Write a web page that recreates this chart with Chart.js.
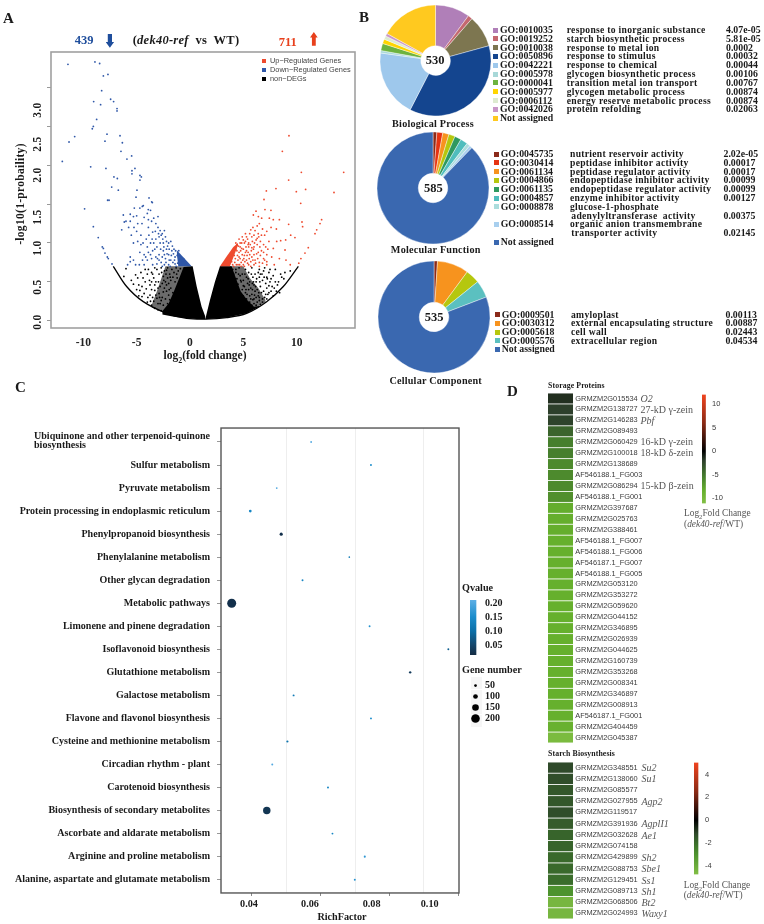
<!DOCTYPE html>
<html>
<head>
<meta charset="utf-8">
<title>dek40-ref transcriptome</title>
<script src="https://cdn.jsdelivr.net/npm/chart.js@4/dist/chart.umd.min.js"></script>
<style>
  html, body { margin: 0; background: #fff; }
  #page { position: relative; width: 764px; height: 924px; overflow: hidden; background: #fff; }
  #page canvas { position: absolute; }
  .t { position: absolute; white-space: pre; line-height: 1; z-index: 5; }
  .t sub { font-size: 70%; line-height: 0; }
</style>
</head>
<body>
<div id="page"></div>
<script>
// ---- A: volcano, values as [log2FC, -log10(1-p)]
const upPoints = [[9.28,2.38],[8.66,2.18],[10.44,1.91],[14.41,1.91],[9.25,1.81],[7.16,1.67],[8.06,1.7],[10.84,1.69],[9.97,1.66],[13.5,1.65],[6.94,1.56],[10.38,1.51],[7.03,1.43],[7.59,1.42],[6.19,1.41],[5.94,1.36],[6.41,1.34],[6.72,1.32],[7.44,1.32],[7.81,1.3],[8.38,1.3],[12.34,1.3],[10.5,1.27],[12.19,1.25],[10.56,1.21],[9.25,1.24],[11.88,1.17],[11.72,1.12],[9.44,1.1],[9.84,1.07],[8.97,1.04],[8.13,1.02],[8.5,1.03],[11.09,.94],[10.78,.87],[8.91,.91],[7.81,.93],[8.38,.8],[7.66,.82],[7.2,.76],[6.9,.8],[10.4,.8],[10.2,.74],[4.3,1.0],[4.6,1.05],[4.9,1.08],[5.2,1.12],[5.1,1.0],[5.4,1.05],[5.7,1.17],[5.9,1.2],[6.0,1.1],[6.3,1.22],[6.5,1.25],[6.4,1.12],[6.8,1.18],[7.0,1.1],[7.2,1.15],[5.5,.95],[5.0,.92],[4.7,.95],[4.4,.9],[4.9,.85],[5.2,.88],[5.6,.85],[6.0,.95],[6.3,.98],[6.6,1.02],[6.9,.98],[6.0,.85],[6.4,.88],[6.7,.9],[5.3,.78],[5.7,.76],[6.1,.78],[6.5,.75],[4.8,.75],[4.5,.78],[4.2,.75],[5.0,.72],[5.5,.72],[6.0,.72],[7.0,.78],[7.2,.85],[7.3,.92],[4.6,.82],[4.75,.9],[5.05,.8],[5.35,.84],[5.45,.98],[4.85,1.0],[5.25,.95],[5.75,.9],[5.85,1.02],[6.2,1.04],[4.15,.84],[4.35,.72],[4.65,.72],[5.15,.76],[5.8,.82],[6.55,.95],[3.9,.76],[4.0,.85],[4.1,.7],[4.25,.8],[4.3,.92],[4.45,.84],[4.5,.72],[4.55,.96],[4.7,.8],[4.8,.7],[4.85,.93],[4.95,.78],[5.1,.84],[5.1,.7],[5.2,1.02],[5.3,.9],[5.4,.74],[5.45,.88],[5.55,.8],[5.65,.98],[5.7,.7],[5.8,1.08],[5.9,.78],[5.95,.92],[6.05,1.0],[6.15,.74],[6.25,.86],[6.35,.8],[6.45,1.08],[6.5,.7],[6.6,.84],[6.7,1.1],[6.8,.74],[6.9,.88],[7.1,.95],[7.2,.72],[7.4,1.02],[7.6,1.2],[7.9,.72],[8.1,1.18],[9.0,.78],[9.4,.72],[4.0,.72],[4.4,.98],[4.6,.88],[4.7,1.0],[5.0,1.04],[5.3,1.08],[5.6,1.12],[5.5,1.0],[5.8,.94],[6.1,1.16],[6.3,1.06]];
const downPoints = [[-11.44,3.3],[-8.91,3.33],[-8.47,3.31],[-7.69,3.17],[-8.12,3.15],[-8.28,2.96],[-7.44,2.85],[-7.16,2.82],[-9.03,2.82],[-8.38,2.78],[-6.84,2.73],[-6.84,2.7],[-8.75,2.59],[-9.06,2.5],[-9.16,2.47],[-7.78,2.4],[-6.56,2.38],[-10.81,2.37],[-11.34,2.3],[-7.97,2.31],[-6.34,2.29],[-6.47,2.18],[-5.47,2.12],[-5.91,2.08],[-11.97,2.05],[-9.31,1.98],[-7.88,1.96],[-5.16,1.96],[-5.44,1.93],[-5.44,1.89],[-4.69,1.87],[-4.56,1.85],[-7.13,1.85],[-6.81,1.83],[-4.69,1.81],[-7.34,1.72],[-6.72,1.68],[-4.97,1.68],[-7.72,1.55],[-7.59,1.55],[-5.06,1.59],[-3.84,1.58],[-3.59,1.53],[-3.53,1.52],[-9.88,1.44],[-4.38,1.48],[-4.47,1.47],[-5.22,1.45],[-3.91,1.43],[-9.06,1.21],[-8.6,1.07],[-8.22,.95],[-8.12,.93],[-7.97,.87],[-7.75,.82],[-7.66,.8],[-7.31,.73],[-6.25,1.36],[-6.16,1.27],[-6.4,1.17],[-5.6,1.37],[-5.3,1.34],[-5.6,1.28],[-6.0,1.28],[-5.75,1.2],[-5.0,1.35],[-4.7,1.45],[-4.9,1.25],[-4.5,1.25],[-5.25,1.2],[-5.5,1.1],[-5.0,1.15],[-4.6,1.1],[-4.3,1.33],[-4.0,1.38],[-3.9,1.3],[-3.7,1.42],[-3.6,1.28],[-3.4,1.32],[-3.2,1.25],[-3.0,1.34],[-3.9,1.2],[-3.5,1.14],[-3.0,1.2],[-2.8,1.16],[-2.6,1.12],[-2.4,1.16],[-2.3,1.08],[-2.9,1.08],[-3.2,1.05],[-3.4,1.0],[-3.7,1.0],[-4.1,1.05],[-4.6,.98],[-4.9,1.02],[-5.3,1.0],[-5.6,.82],[-5.3,.78],[-5.6,.76],[-5.85,.72],[-4.7,.88],[-4.3,.85],[-3.9,.88],[-3.5,.9],[-3.1,.95],[-2.8,1.0],[-2.5,1.0],[-2.2,1.02],[-2.0,1.0],[-1.8,1.02],[-2.2,.92],[-2.5,.9],[-2.9,.85],[-3.2,.82],[-3.6,.8],[-4.0,.78],[-2.0,.85],[-1.7,.9],[-1.5,.92],[-2.3,.8],[-2.7,.75],[-3.1,.73],[-1.8,.78],[-1.4,.82],[-1.1,.85],[-1.0,.78],[-.7,.75],[-1.4,.73],[-2.0,.72],[-2.4,.72],[-3.5,.72],[-4.3,.72],[-5.1,.72],[-2.9,.78],[-2.75,.92],[-2.6,.82],[-2.6,.7],[-2.45,.95],[-2.4,.85],[-2.25,.75],[-2.15,.86],[-2.1,.96],[-1.95,.78],[-1.95,.92],[-1.85,.7],[-1.75,.84],[-1.65,.96],[-1.6,.75],[-1.55,.86],[-1.45,.78],[-1.35,.9],[-1.3,.7],[-1.2,.84],[-1.15,.74],[-1.05,.9],[-.9,.72],[-.85,.82],[-.6,.8],[-.45,.72],[-2.95,1.12],[-3.25,1.15],[-3.3,.92],[-3.55,1.05],[-3.7,.85],[-3.85,1.1],[-4.0,.95],[-4.15,.82],[-4.4,1.0],[-4.45,.78],[-4.75,.72],[-3.05,.8],[-2.55,1.05],[-2.7,1.1]];
const otherPoints = [[-6.0,.67],[-6.2,.57],[-5.1,.59],[-4.8,.46],[-4.2,.5],[-4.7,.39],[-4.3,.35],[-3.75,.46],[-3.3,.39],[-3.75,.33],[-3.1,.29],[-2.8,.22],[-2.5,.57],[-2.8,.44],[-2.5,.37],[-2.2,.65],[-2.0,.48],[-3.6,.62],[-3.1,.66],[-2.9,.6],[-2.7,.68],[-2.4,.64],[-2.1,.68],[-1.9,.6],[-1.7,.66],[-1.5,.62],[-1.3,.68],[-1.1,.64],[-.9,.67],[-2.3,.5],[-2.1,.55],[-1.8,.52],[-1.6,.56],[-1.4,.5],[-1.2,.55],[-2.6,.3],[-2.4,.42],[-2.2,.38],[-2.0,.33],[-1.8,.42],[-1.6,.36],[-3.4,.25],[-3.2,.33],[-3.0,.22],[-2.9,.35],[-2.7,.26],[-2.5,.2],[-2.3,.28],[-2.1,.22],[-1.9,.27],[-3.6,.4],[-3.95,.3],[-4.1,.41],[-3.4,.55],[-3.2,.5],[-2.95,.5],[-2.6,.48],[-4.5,.31],[-4.0,.24],[-3.6,.2],[-3.3,.16],[-3.0,.14],[-2.7,.13],[-4.4,.55],[-4.0,.6],[-5.3,.47],[-5.5,.52],[-3.8,.52],[-3.5,.3],[-2.85,.3],[-2.2,.46],[-1.95,.4],[-2.45,.52],[-2.25,.6],[-1.85,.56],[-2.65,.62],[-3.3,.68],[-1.25,.6],[-3.5,.6],[-3.9,.66],[-4.6,.62],[-4.9,.55],[-4.2,.66],[-3.7,.25],[-4.8,.32],[-5.0,.4],[-4.5,.44],[-3.3,.46],[-3.0,.42],[-3.6,.5],[4.0,.66],[4.3,.62],[4.6,.68],[4.9,.6],[5.2,.66],[5.5,.62],[5.8,.68],[6.1,.6],[6.5,.66],[7.0,.68],[7.4,.62],[7.8,.58],[8.0,.66],[8.5,.6],[8.9,.62],[8.6,.56],[4.1,.6],[4.4,.54],[4.7,.58],[5.0,.52],[5.3,.56],[5.6,.5],[5.9,.56],[6.2,.5],[6.5,.56],[6.8,.52],[7.1,.48],[7.5,.5],[4.5,.47],[4.8,.5],[5.1,.44],[5.4,.48],[5.7,.42],[6.0,.46],[6.3,.4],[6.6,.44],[6.9,.38],[7.2,.42],[7.6,.38],[7.9,.42],[4.9,.4],[5.2,.36],[5.5,.4],[5.8,.34],[6.1,.38],[6.4,.32],[6.7,.36],[7.0,.3],[7.3,.34],[7.8,.32],[5.0,.32],[5.3,.28],[5.6,.32],[5.9,.27],[6.2,.3],[6.5,.26],[6.8,.28],[7.2,.28],[5.6,.24],[6.0,.22],[6.3,.24],[6.6,.21],[4.3,.66],[4.55,.6],[4.75,.52],[5.0,.45],[5.15,.6],[5.45,.54],[5.75,.6],[5.95,.5],[6.25,.54],[6.4,.62],[6.75,.6],[6.95,.56],[7.25,.54],[5.25,.4],[5.55,.46],[5.85,.4],[6.15,.44],[6.45,.36],[5.35,.34],[5.7,.28],[6.05,.33],[5.85,.48],[6.55,.5],[7.4,.45],[8.2,.46],[8.4,.36],[4.4,.42],[5.4,.2],[5.6,.18],[5.8,.2],[6.0,.28],[6.2,.2],[6.5,.3],[6.8,.24],[7.1,.34],[7.4,.36],[7.7,.44],[7.2,.56],[6.6,.6],[6.9,.64],[7.6,.54],[8.0,.5],[8.3,.5],[8.1,.38],[8.8,.54],[9.4,.64],[7.5,.66]];
// lower envelope and the parts too dense to read point by point
const envelope = [[-7.19,.7],[-5.94,.44],[-4.38,.245],[-2.19,.095],[-.31,.03],[1.47,.02],[3.44,.04],[5.31,.095],[7.19,.245],[8.75,.44],[10.16,.7]];
const denseLeftTop = [[-2.6,.12],[-2.0,.22],[-1.5,.38],[-1.0,.55],[-.6,.69],[.25,.7],[.63,.44],[1.09,.18],[1.47,.04]];
const denseLeftBottom = [[-2.6,.08],[-1.5,.05],[-.3,.03],[.6,.022],[1.47,.02]];
const denseRightTop = [[1.47,.04],[1.88,.27],[2.34,.5],[2.81,.7],[3.9,.7],[4.3,.55],[4.75,.38],[5.4,.26],[6.0,.18],[6.5,.19]];
const denseRightBottom = [[1.47,.02],[3.44,.04],[5.31,.095],[6.5,.18]];
const sparseLeftTop = [[-3.6,.2],[-3.1,.38],[-2.6,.58],[-2.3,.7],[.2,.7]];
const sparseLeftBottom = [[-3.6,.17],[-2.19,.095],[-.31,.03],[.2,.03]];
const sparseRightTop = [[2.81,.7],[5.0,.7],[5.6,.55],[6.4,.42],[7.1,.26]];
const sparseRightBottom = [[2.81,.03],[3.44,.04],[5.31,.095],[7.1,.24]];
const denseUpTop = [[2.81,.7],[3.4,.82],[4.06,.95],[4.5,1.0]];
const denseUpBottom = [[2.81,.7],[3.75,.7],[4.5,.97]];
const denseDownTop = [[-1.25,.91],[.16,.7]];
const denseDownBottom = [[-1.25,.88],[-1.1,.7],[.16,.7]];
const volcanoXTicks = [-10, -5, 0, 5, 10];
const volcanoYTicks = [0, .5, 1, 1.5, 2, 2.5, 3];
const volcanoYLabels = ["0.0", "0.5", "1.0", "1.5", "2.0", "2.5", "3.0"];

// ---- B: GO pies
const bpIds = ["GO:0010035","GO:0019252","GO:0010038","GO:0050896","GO:0042221","GO:0005978","GO:0000041","GO:0005977","GO:0006112","GO:0042026","Not assigned"];
const bpNames = ["response to inorganic substance","starch biosynthetic process","response to metal ion","response to stimulus","response to chemical","glycogen biosynthetic process","transition metal ion transport","glycogen metabolic process","energy reserve metabolic process","protein refolding",""];
const bpPvalues = ["4.07e-05","5.81e-05","0.0002","0.00032","0.00044","0.00106","0.00767","0.00874","0.00874","0.02063",""];
const bpShares = [10.1,1.3,9.3,36.8,19.6,.7,2.1,1.3,1,.8,16.9];
const bpColors = ["#B07FB8","#C4686F","#7D7650","#14458F","#9EC8EC","#A8D8D8","#6DB33F","#FFD500","#DDEBD0","#C896C8","#FFC91F"];
const mfIds = ["GO:0045735","GO:0030414","GO:0061134","GO:0004866","GO:0061135","GO:0004857","GO:0008878","GO:0008514","Not assigned"];
const mfNames = ["nutrient reservoir activity","peptidase inhibitor activity","peptidase regulator activity","endopeptidase inhibitor activity","endopeptidase regulator activity","enzyme inhibitor activity","glucose-1-phosphate\nadenylyltransferase  activity","organic anion transmembrane\ntransporter activity",""];
const mfPvalues = ["2.02e-05","0.00017","0.00017","0.00099","0.00099","0.00127","0.00375","0.02145",""];
const mfShares = [1.1,1.7,1.8,1.8,1.9,2.1,1,.8,87.7];
const mfColors = ["#8B2A1A","#E63312","#F7931E","#B5C70E","#2E9960","#4FBDBD","#ABDDDD","#A8CFEE","#3A68B0"];
const ccIds = ["GO:0009501","GO:0030312","GO:0005618","GO:0005576","Not assigned"];
const ccNames = ["amyloplast","external encapsulating structure","cell wall","extracellular region",""];
const ccPvalues = ["0.00113","0.00887","0.02443","0.04534",""];
const ccShares = [1,9.1,4.1,5,80.8];
const ccColors = ["#8B2A1A","#F7931E","#B5C70E","#5BC0C0","#3A68B0"];

// ---- C: KEGG enrichment, top row first
const pathways = ["Ubiquinone and other terpenoid-quinone biosynthesis","Sulfur metabolism","Pyruvate metabolism","Protein processing in endoplasmic reticulum","Phenylpropanoid biosynthesis","Phenylalanine metabolism","Other glycan degradation","Metabolic pathways","Limonene and pinene degradation","Isoflavonoid biosynthesis","Glutathione metabolism","Galactose metabolism","Flavone and flavonol biosynthesis","Cysteine and methionine metabolism","Circadian rhythm - plant","Carotenoid biosynthesis","Biosynthesis of secondary metabolites","Ascorbate and aldarate metabolism","Arginine and proline metabolism","Alanine, aspartate and glutamate metabolism"];
const richFactor = [.0572,.0746,.0472,.0395,.0485,.0683,.0547,.0341,.0742,.0971,.086,.0521,.0746,.0503,.0459,.0621,.0443,.0634,.0728,.0699];
const qValues = [.2,.15,.2,.14,.01,.12,.14,.01,.16,.08,.03,.12,.15,.11,.2,.14,.02,.14,.17,.16];
const geneNumbers = [25,30,25,50,60,22,30,210,28,28,40,30,28,35,30,30,170,28,32,30];
const richTicks = [.04,.05,.06,.07,.08,.09,.1];
const richLabels = ["0.04","0.06","0.08","0.10"];
const qTicks = [.05,.1,.15,.2];
const geneLegend = [50,100,150,200];

// ---- D: heatmaps
const storageGenes = ["GRMZM2G015534","GRMZM2G138727","GRMZM2G146283","GRMZM2G089493","GRMZM2G060429","GRMZM2G100018","GRMZM2G138689","AF546188.1_FG003","GRMZM2G086294","AF546188.1_FG001","GRMZM2G397687","GRMZM2G025763","GRMZM2G388461","AF546188.1_FG007","AF546188.1_FG006","AF546187.1_FG007","AF546188.1_FG005","GRMZM2G053120","GRMZM2G353272","GRMZM2G059620","GRMZM2G044152","GRMZM2G346895","GRMZM2G026939","GRMZM2G044625","GRMZM2G160739","GRMZM2G353268","GRMZM2G008341","GRMZM2G346897","GRMZM2G008913","AF546187.1_FG001","GRMZM2G404459","GRMZM2G045387"];
const storageFc = [-1.5,-2,-2.2,-4,-5.5,-5.5,-6.2,-6.2,-6.2,-6.5,-8.3,-8.4,-8.4,-8.5,-8.5,-8.5,-8.5,-8.5,-8.5,-8.5,-8.5,-8.5,-8.5,-8.5,-8.5,-8.5,-8.5,-8.5,-8.5,-8.5,-8.7,-10.5];
const storageNotes = ["O2","27-kD γ-zein","Pbf","","16-kD γ-zein","18-kD δ-zein","","","15-kD β-zein"];
const starchGenes = ["GRMZM2G348551","GRMZM2G138060","GRMZM2G085577","GRMZM2G027955","GRMZM2G119517","GRMZM2G391936","GRMZM2G032628","GRMZM2G074158","GRMZM2G429899","GRMZM2G088753","GRMZM2G129451","GRMZM2G089713","GRMZM2G068506","GRMZM2G024993"];
const starchFc = [-1.2,-1.3,-1.5,-1.5,-1.3,-1.6,-1.8,-1.8,-1.9,-1.9,-2,-3,-4.4,-4.4];
const starchNotes = ["Su2","Su1","","Agp2","","AgplI1","Ae1","","Sh2","Sbe1","Ss1","Sh1","Bt2","Waxy1"];
const storageScaleTicks = [-10,-5,0,5,10];
const starchScaleTicks = [-4,-2,0,2,4];

// ---- colour ramps
const storageRamp = [[-11.2,"#82BF45"],[-8.5,"#66B02D"],[-5.5,"#467F2D"],[-2,"#2D3F2B"],[0,"#000000"],[6,"#8A2A15"],[12.1,"#F0441F"]];
const starchRamp = [[-4.76,"#82BF45"],[-3,"#4D932E"],[-2,"#3A6D2B"],[-1.2,"#2F4A2A"],[0,"#000000"],[2.5,"#8A2A15"],[5.06,"#F0441F"]];
const qRamp = [[0,"#132B43"],[.05,"#14466B"],[.1,"#0B6FA8"],[.15,"#1A8CCB"],[.21,"#5CAEE4"]];

function hexRgb(h) { return [1, 3, 5].map((i) => parseInt(h.slice(i, i + 2), 16)); }
function rampColor(ramp, v) {
  for (let i = 1; i < ramp.length; i++) {
    if (v <= ramp[i][0]) {
      const k = Math.max(0, (v - ramp[i - 1][0]) / (ramp[i][0] - ramp[i - 1][0]));
      const a = hexRgb(ramp[i - 1][1]);
      const b = hexRgb(ramp[i][1]);
      return `rgb(${a.map((c, j) => Math.round(c + (b[j] - c) * k)).join(",")})`;
    }
  }
  return ramp[ramp.length - 1][1];
}
const geneRadius = (n) => 0.4 + n * 0.0195;

const SERIF = '"Liberation Serif", serif';
const SANS = '"Liberation Sans", sans-serif';
const page = document.getElementById("page");
Chart.defaults.font.family = SERIF;
Chart.defaults.animation = false;
Chart.defaults.events = [];
Chart.defaults.plugins.legend.display = false;
Chart.defaults.plugins.tooltip.enabled = false;

function text(str, x, y, o = {}) {
  const d = document.createElement("div");
  d.className = "t";
  d.innerHTML = str;
  const shift = o.align === "center" ? "-50%" : o.align === "right" ? "-100%" : "0";
  d.style.cssText = `left:${x}px;top:${y}px;font-family:${o.family || SERIF};font-size:${o.size || 10}px;` +
    `font-weight:${o.weight || "bold"};font-style:${o.fontStyle || "normal"};color:${o.color || "#1a1a1a"};letter-spacing:${o.spacing || 0}px;` +
    `transform:translate(${shift},-50%)${o.rotate ? ` rotate(${o.rotate}deg)` : ""};`;
  page.appendChild(d);
}
function box(x, y, w, h, color, clip) {
  const d = document.createElement("div");
  d.style.cssText = `position:absolute;left:${x}px;top:${y}px;width:${w}px;height:${h}px;background:${color};` +
    (clip ? `clip-path:polygon(${clip});` : "");
  page.appendChild(d);
}
// canvas around a plot frame, axes pinned so the frame lands on exact page pixels
const PAD = 7;
function plotCanvas(f, axis = {}) {
  const c = document.createElement("canvas");
  const left = axis.left || 0, right = axis.right || 0, bottom = axis.bottom || 0;
  c.width = f.r - f.l + left + right + PAD * 2;
  c.height = f.b - f.t + bottom + PAD * 2;
  c.style.left = f.l - left - PAD + "px";
  c.style.top = f.t - PAD + "px";
  page.appendChild(c);
  return c;
}
const pin = (size) => (scale) => {
  if (scale.isHorizontal()) scale.height = size;
  else scale.width = size;
};
const frameBox = (color, width) => ({
  id: "frameBox",
  afterDraw(chart) {
    const { left, top, width: w, height: h } = chart.chartArea;
    const g = chart.ctx;
    g.save();
    g.strokeStyle = color;
    g.lineWidth = width;
    g.strokeRect(left, top, w, h);
    g.restore();
  },
});
const asXY = (pts) => pts.map((p) => ({ x: p[0], y: p[1] }));
const base = { responsive: false, layout: { padding: PAD } };

// ---------------- A
const volcanoFrame = { l: 51, t: 52, r: 355, b: 328 };
const area = (top, bottom, color) => [
  { type: "line", data: asXY(top), backgroundColor: color, borderWidth: 0, pointRadius: 0, fill: "+1", tension: 0 },
  { type: "line", data: asXY(bottom), borderWidth: 0, pointRadius: 0, fill: false, tension: 0 },
];
new Chart(plotCanvas(volcanoFrame, { left: 5, bottom: 22 }), {
  type: "scatter",
  data: {
    datasets: [
      { data: asXY(upPoints), pointRadius: 0.9, backgroundColor: "#EE4A2E", borderWidth: 0 },
      { data: asXY(downPoints), pointRadius: 0.9, backgroundColor: "#2F57A8", borderWidth: 0 },
      { data: asXY(otherPoints), pointRadius: 0.9, backgroundColor: "#000", borderWidth: 0 },
      { type: "line", data: asXY(envelope), borderColor: "#000", borderWidth: 1.3, pointRadius: 0, tension: 0.35, fill: false },
      ...area(denseUpTop, denseUpBottom, "#EE4A2E"),
      ...area(denseDownTop, denseDownBottom, "#2F57A8"),
      ...area(denseLeftTop, denseLeftBottom, "#000"),
      ...area(denseRightTop, denseRightBottom, "#000"),
      ...area(sparseLeftTop, sparseLeftBottom, "rgba(0,0,0,0.58)"),
      ...area(sparseRightTop, sparseRightBottom, "rgba(0,0,0,0.58)"),
    ],
  },
  options: {
    ...base,
    scales: {
      x: {
        type: "linear", min: -13.03, max: 15.47, afterFit: pin(22),
        afterBuildTicks: (s) => { s.ticks = volcanoXTicks.map((value) => ({ value })); },
        grid: { display: false, drawTicks: false }, border: { display: false },
        ticks: { autoSkip: false, maxRotation: 0, padding: 8, color: "#222", font: { size: 11.5, weight: "bold" } },
      },
      y: {
        type: "linear", min: -0.094, max: 3.458, afterFit: pin(5),
        afterBuildTicks: (s) => { s.ticks = volcanoYTicks.map((value) => ({ value })); },
        grid: { drawOnChartArea: false, tickLength: 4, tickColor: "#999" }, border: { display: false },
        ticks: { display: false },
      },
    },
  },
  plugins: [frameBox("#a0a0a0", 1.6)],
});
[321.7, 286.7, 248.3, 216.7, 175, 144, 110].forEach((y, i) => {
  text(volcanoYLabels[i], 38, y, { size: 11.5, align: "center", rotate: -90, spacing: 0.3 });
});
text("-log10(1-probaility)", 21, 194, { size: 11.5, align: "center", rotate: -90, spacing: 0.3 });
text("log<sub>2</sub>(fold change)", 205, 356, { size: 11.5, align: "center" });
text("439", 74.7, 40, { size: 12.5, color: "#1F4E9C" });
text("711", 278.7, 41.5, { size: 12.5, color: "#E8401C" });
text("(<i>dek40-ref</i>  vs  WT)", 132.7, 40, { size: 12.5, spacing: 0.25 });
box(105.7, 33.5, 8.4, 14.2, "#1F4E9C", "25% 0,75% 0,75% 60%,100% 60%,50% 100%,0 60%,25% 60%");
box(310, 32, 7.7, 13.7, "#E8401C", "50% 0,100% 40%,75% 40%,75% 100%,25% 100%,25% 40%,0 40%");
[["Up−Regulated Genes", "#EE4A2E", 61], ["Down−Regulated Genes", "#2F57A8", 70], ["non−DEGs", "#000", 79]].forEach((r) => {
  box(262, r[2] - 2, 4, 4, r[1]);
  text(r[0], 270, r[2], { family: SANS, size: 7.4, weight: "normal", color: "#444" });
});
[["A", 3, 18], ["B", 359, 17], ["C", 15, 387], ["D", 507, 391]].forEach((r) => text(r[0], r[1], r[2], { size: 15 }));

// ---------------- B
function pie(shares, colors, cx, cy, r, count, title, titleX, titleY) {
  const c = document.createElement("canvas");
  c.width = c.height = 2 * r + 6;
  c.style.left = cx - r - 3 + "px";
  c.style.top = cy - r - 3 + "px";
  page.appendChild(c);
  new Chart(c, {
    type: "doughnut",
    data: { datasets: [{ data: shares, backgroundColor: colors, borderColor: "#fff", borderWidth: 0.4 }] },
    options: { responsive: false, radius: r, cutout: 15.5 },
  });
  text(count, cx, cy, { size: 12.5, align: "center" });
  text(title, titleX, titleY, { size: 10.2, align: "center", spacing: 0.2 });
}
function goLegend(ids, names, pvals, colors, col, startY, step) {
  let row = 0;
  ids.forEach((id, i) => {
    const y = startY + row * step;
    box(col.swatch, y - 2.5, 5, 5, colors[i]);
    text(id, col.go, y, { size: 9.8 });
    const lines = names[i].split("\n");
    lines.forEach((ln, k) => { if (ln) text(ln, col.name + (k ? 1.3 : 0), y + k * step, { size: 9.6, spacing: 0.3 }); });
    if (pvals[i]) text(pvals[i], col.p, y + (lines.length - 1) * step, { size: 9.8 });
    row += lines.length;
  });
}
pie(bpShares, bpColors, 435, 60, 55.5, "530", "Biological Process", 433, 124);
goLegend(bpIds, bpNames, bpPvalues, bpColors, { swatch: 493, go: 500, name: 566.7, p: 726 }, 30, 8.82);
pie(mfShares, mfColors, 433.3, 188.3, 56, "585", "Molecular Function", 435.7, 250);
goLegend(mfIds, mfNames, mfPvalues, mfColors, { swatch: 493.5, go: 500.7, name: 570, p: 723.5 }, 154, 8.8);
pie(ccShares, ccColors, 434, 316.7, 56, "535", "Cellular Component", 435.7, 380.5);
goLegend(ccIds, ccNames, ccPvalues, ccColors, { swatch: 495, go: 501.7, name: 571, p: 725.5 }, 314.7, 8.65);

// ---------------- C
const richFrame = { l: 220.6, t: 422.3, r: 459.5, b: 895.3 };
new Chart(plotCanvas(richFrame, { left: 220, bottom: 5 }), {
  type: "bubble",
  data: {
    datasets: [{
      data: pathways.map((p, i) => ({ x: richFactor[i], y: i, r: geneRadius(geneNumbers[i]) })),
      backgroundColor: (ctx) => rampColor(qRamp, qValues[ctx.dataIndex]),
      borderWidth: 0,
    }],
  },
  options: {
    ...base,
    scales: {
      x: {
        type: "linear", min: 0.03099, max: 0.1002, afterFit: pin(5),
        afterBuildTicks: (s) => { s.ticks = richTicks.map((value) => ({ value })); },
        border: { display: false },
        grid: {
          tickLength: 3,
          color: (ctx) => (Math.round(ctx.tick.value * 100) % 2 ? "#eeeeee" : "rgba(0,0,0,0)"),
          tickColor: (ctx) => (Math.round(ctx.tick.value * 100) % 2 ? "rgba(0,0,0,0)" : "#888"),
        },
        ticks: { display: false },
      },
      y: {
        type: "linear", reverse: true, min: -0.606, max: 19.577, afterFit: pin(220),
        afterBuildTicks: (s) => { s.ticks = pathways.map((p, i) => ({ value: i })); },
        border: { display: false },
        grid: { drawOnChartArea: false, tickLength: 4, tickColor: "#999" },
        ticks: {
          autoSkip: false, padding: 7, color: "#1a1a1a", font: { size: 10.05, weight: "bold" },
          callback: (v) => (v === 0 ? "" : pathways[v]),
        },
      },
    },
  },
  plugins: [frameBox("#555", 1.4)],
});
// first label wraps and sits flush left
text(pathways[0].replace(" biosynthesis", ""), 34, 435.5, { size: 10.05 });
text("biosynthesis", 34, 444.5, { size: 10.05 });
[249, 310, 371.6, 429.7].forEach((x, i) => text(richLabels[i], x, 904, { size: 10.2, align: "center" }));
text("RichFactor", 342, 917, { size: 10.2, align: "center" });

function colorBar(f, min, max, ramp, ticks, o) {
  new Chart(plotCanvas(f, { right: o.axis }), {
    type: "bar",
    data: {
      labels: [""],
      datasets: [{
        data: [[min, max]],
        barPercentage: 1,
        categoryPercentage: 1,
        backgroundColor: (ctx) => {
          const a = ctx.chart.chartArea;
          if (!a) return "#000";
          const g = ctx.chart.ctx.createLinearGradient(0, a.bottom, 0, a.top);
          ramp.forEach((s) => g.addColorStop(Math.min(1, Math.max(0, (s[0] - min) / (max - min))), s[1]));
          return g;
        },
      }],
    },
    options: {
      ...base,
      scales: {
        x: { display: false, offset: false },
        y: {
          type: "linear", position: "right", min, max, afterFit: pin(o.axis),
          afterBuildTicks: (s) => { s.ticks = ticks.map((value) => ({ value })); },
          border: { display: false },
          grid: { drawOnChartArea: false, drawTicks: false },
          ticks: { autoSkip: false, padding: o.padding, color: o.color, font: o.font, callback: o.callback },
        },
      },
    },
  });
}
text("Qvalue", 462, 588, { size: 10.2 });
colorBar({ l: 469.6, t: 598, r: 482, b: 657.8 }, 0.0145, 0.211, qRamp, qTicks, {
  axis: 30, padding: 3, color: "#1a1a1a", font: { size: 10, weight: "bold" }, callback: (v) => v.toFixed(2),
});
text("Gene number", 462, 670, { size: 10.2 });
[677, 689.5, 702, 714.5].forEach((y) => box(470.5, y, 11, 12, "#f6f6f6"));
const geneFrame = { l: 470, t: 677, r: 481, b: 727 };
new Chart(plotCanvas(geneFrame, { right: 30 }), {
  type: "bubble",
  data: {
    datasets: [{
      data: geneLegend.map((n, i) => ({ x: 0, y: i, r: geneRadius(n) })),
      backgroundColor: "#000",
      borderWidth: 0,
    }],
  },
  options: {
    ...base,
    scales: {
      x: { type: "linear", display: false, min: -1, max: 1 },
      y: {
        type: "linear", position: "right", reverse: true, min: -0.5, max: 3.5, afterFit: pin(30),
        afterBuildTicks: (s) => { s.ticks = geneLegend.map((n, i) => ({ value: i })); },
        border: { display: false },
        grid: { drawOnChartArea: false, drawTicks: false },
        ticks: { autoSkip: false, padding: 4, color: "#1a1a1a", font: { size: 10, weight: "bold" }, callback: (v) => geneLegend[v] },
      },
    },
  },
});

// ---------------- D
function heatmap(f, genes, fc, ramp) {
  new Chart(plotCanvas(f, { right: 110 }), {
    type: "bar",
    data: {
      labels: genes,
      datasets: [{
        data: genes.map(() => 1),
        backgroundColor: (ctx) => rampColor(ramp, fc[ctx.dataIndex]),
        barPercentage: 1,
        categoryPercentage: 0.92,
      }],
    },
    options: {
      ...base,
      indexAxis: "y",
      scales: {
        x: { display: false, min: 0, max: 1 },
        y: {
          position: "right", afterFit: pin(110),
          border: { display: false }, grid: { display: false, drawTicks: false },
          ticks: { autoSkip: false, padding: 2.3, color: "#3a3a3a", font: { family: SANS, size: 7.4 } },
        },
      },
    },
  });
}
function notes(list, startY, step, x) {
  list.forEach((n, i) => {
    if (!n) return;
    const italic = !/zein/.test(n);
    text(n, x, startY + i * step, { size: 10, weight: "normal", color: "#555", fontStyle: italic ? "italic" : "normal" });
  });
}
const plainTick = (v) => v;
text("Storage Proteins", 548, 386, { size: 7.8, spacing: 0.1 });
heatmap({ l: 548.3, t: 393.3, r: 574, b: 744.3 }, storageGenes, storageFc, storageRamp);
notes(storageNotes, 398.6, 10.97, 640.5);
colorBar({ l: 701.7, t: 394, r: 709, b: 504.3 }, -11.2, 12.1, storageRamp, storageScaleTicks, {
  axis: 24, padding: 3, color: "#3a3a3a", font: { family: SANS, size: 7.5 }, callback: plainTick,
});
text("Log<sub>2</sub>Fold Change", 684, 514, { size: 9.4, weight: "normal", color: "#555" });
text("(<i>dek40-ref</i>/WT)", 684, 525, { size: 9.4, weight: "normal", color: "#555" });

text("Starch Biosynthesis", 548, 754, { size: 7.8, spacing: 0.1 });
heatmap({ l: 548.3, t: 762.3, r: 574, b: 920 }, starchGenes, starchFc, starchRamp);
notes(starchNotes, 768, 11.26, 641.5);
colorBar({ l: 693.7, t: 762.3, r: 701.7, b: 875.7 }, -4.76, 5.06, starchRamp, starchScaleTicks, {
  axis: 24, padding: 3, color: "#3a3a3a", font: { family: SANS, size: 7.5 }, callback: plainTick,
});
text("Log<sub>2</sub>Fold Change", 683.7, 885.7, { size: 9.4, weight: "normal", color: "#555" });
text("(<i>dek40-ref</i>/WT)", 683.7, 896, { size: 9.4, weight: "normal", color: "#555" });
</script>
</body>
</html>
